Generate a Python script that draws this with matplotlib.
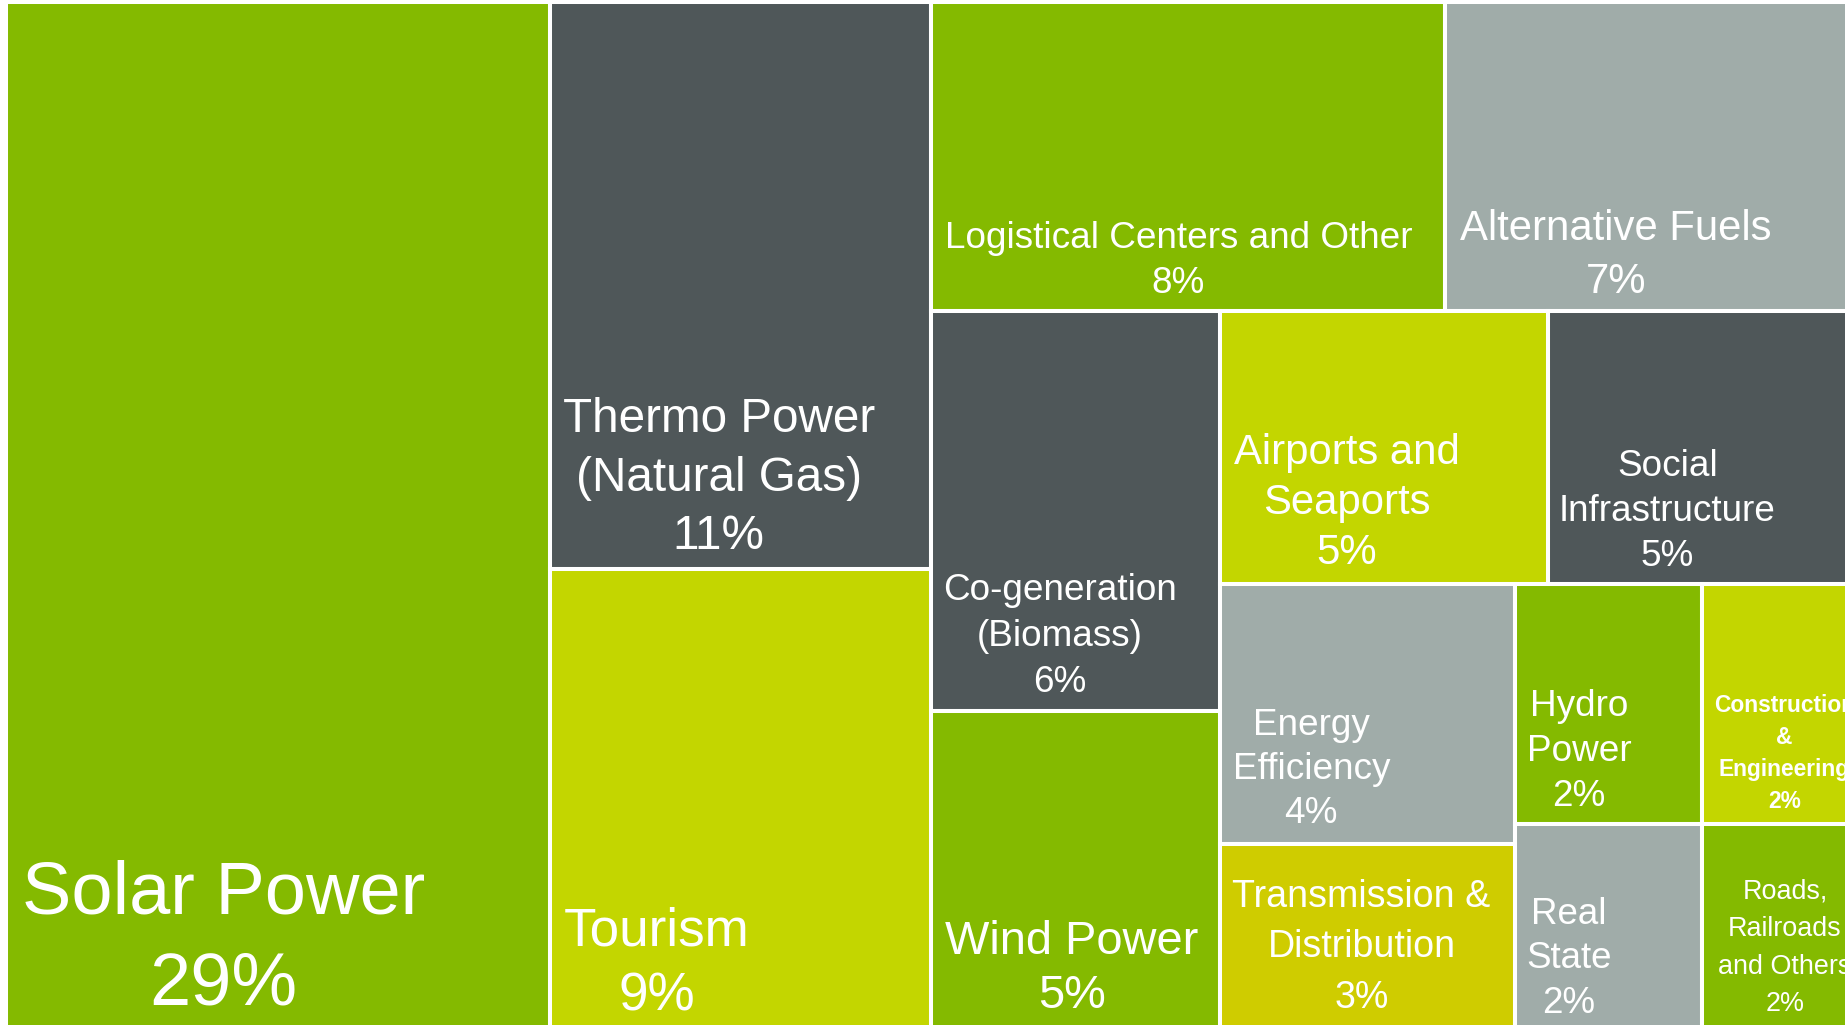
#------------------------------#
# IMPORT LIBRARIES
#------------------------------#

import matplotlib
matplotlib.use("Agg")
import matplotlib.pyplot as plt
from matplotlib.patches import Rectangle

#------------------------------#
# DATA
#------------------------------#

sectors = ["Solar Power", "Thermo Power\n(Natural Gas)", "Tourism",
           "Logistical Centers and Other", "Alternative Fuels",
           "Co-generation\n(Biomass)", "Wind Power", "Airports and\nSeaports",
           "Social\nInfrastructure", "Energy\nEfficiency",
           "Transmission &\nDistribution", "Hydro\nPower",
           "Construction\n&\nEngineering", "Real\nState",
           "Roads,\nRailroads\nand Others"]
shares = [28.9, 11.0, 9.2, 8.1, 7.0, 5.9, 4.9, 4.55, 4.75, 3.9, 3.0, 2.3, 2.3, 2.1, 2.1]

# how the tiles are grouped into strips (column on the left / row on top)
groups = [[0], [1, 2], [3, 4], [5, 6], [7, 8], [9, 10], [11, 12], [13, 14]]
directions = ['col', 'col', 'row', 'col', 'row', 'col', 'row', 'row']

#------------------------------#
# STYLE
#------------------------------#

GREEN = '#84BA00'
DARK = '#4F5759'
LIME = '#C3D600'
GREY = '#A0ACA9'
YELLOW = '#CFCC00'
colors = [GREEN, DARK, LIME, GREEN, GREY, DARK, GREEN, LIME, DARK, GREY,
          YELLOW, GREEN, LIME, GREY, GREEN]

# fontsize, x / y of text centre inside tile (fraction), line spacing (em), weight
label_style = [
    (53.3, 0.399, 0.893, 1.22, 'normal'),
    (34.3, 0.442, 0.831, 1.22, 'normal'),
    (38.2, 0.280, 0.821, 1.23, 'normal'),
    (26.6, 0.481, 0.825, 1.22, 'normal'),
    (30.2, 0.384, 0.806, 1.26, 'normal'),
    (26.6, 0.445, 0.804, 1.24, 'normal'),
    (33.8, 0.487, 0.759, 1.15, 'normal'),
    (30.2, 0.385, 0.688, 1.19, 'normal'),
    (26.6, 0.349, 0.720, 1.22, 'normal'),
    (26.6, 0.309, 0.700, 1.19, 'normal'),
    (27.1, 0.480, 0.500, 1.34, 'normal'),
    (26.6, 0.344, 0.682, 1.22, 'normal'),
    (16.4, 0.437, 0.700, 1.40, 'bold'),
    (26.5, 0.290, 0.595, 1.21, 'normal'),
    (19.4, 0.440, 0.550, 1.40, 'normal'),
]

FONT = ['Liberation Sans', 'DejaVu Sans']

#------------------------------#
# LAYOUT
#------------------------------#


def strip_layout(values, groups, directions, width, height):
    '''
    INPUT:  values, strip grouping and direction, size of the area
    OUTPUT: list of (x, y, w, h) per value, y measured downwards
    '''
    scale = width * height / sum(values)
    x0, y0, w, h = 0.0, 0.0, width, height
    rects = {}
    for grp, d in zip(groups, directions):
        area = sum(values[i] for i in grp) * scale
        if d == 'col':
            gw = area / h
            y = y0
            for i in grp:
                ih = values[i] * scale / gw
                rects[i] = (x0, y, gw, ih)
                y += ih
            x0 += gw
            w -= gw
        else:
            gh = area / w
            x = x0
            for i in grp:
                iw = values[i] * scale / gh
                rects[i] = (x, y0, iw, gh)
                x += iw
            y0 += gh
            h -= gh
    return [rects[i] for i in range(len(values))]


#------------------------------#
# PLOT
#------------------------------#

FIG_W, FIG_H = 1845, 1025
CHART_W, CHART_H = 1884, 1042   # chart runs past the right / bottom edge
LEFT, TOP = 6, 2

fig = plt.figure(figsize=(FIG_W / 100, FIG_H / 100), dpi=100)
ax = fig.add_axes([LEFT / FIG_W, (FIG_H - TOP - CHART_H) / FIG_H,
                   CHART_W / FIG_W, CHART_H / FIG_H])
ax.set_xlim(0, CHART_W)
ax.set_ylim(CHART_H, 0)
ax.axis('off')

rects = strip_layout(shares, groups, directions, CHART_W, CHART_H)

for (x, y, w, h), name, val, c, st in zip(rects, sectors, shares, colors, label_style):
    ax.add_patch(Rectangle((x, y), w, h, facecolor=c, edgecolor='white', linewidth=2.9))

    fs, fx, fy, ls, weight = st
    lines = name.split('\n') + ['{:.0f}%'.format(round(val))]
    fs_px = fs * 100 / 72
    cap = 0.716 * fs_px
    sp = ls * fs_px
    block = cap + (len(lines) - 1) * sp
    cx = x + fx * w
    top = y + fy * h - block / 2
    for k, line in enumerate(lines):
        ax.text(cx, top + cap + k * sp, line, ha='center', va='baseline',
                color='white', fontsize=fs, fontweight=weight, family=FONT,
                clip_on=False)

fig.savefig('out.png', dpi=100, facecolor='white')
